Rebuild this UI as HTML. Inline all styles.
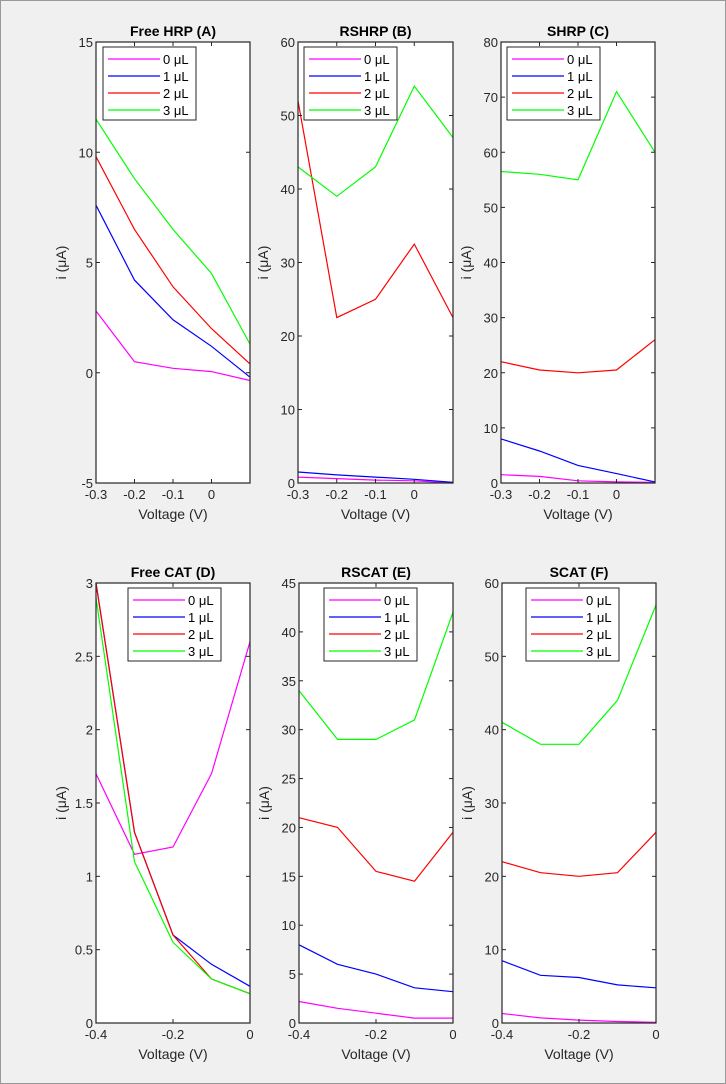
<!DOCTYPE html>
<html><head><meta charset="utf-8"><style>
body{margin:0;background:#f0f0f0;}
svg{display:block;font-family:"Liberation Sans",Arial,sans-serif;}
</style></head><body>
<svg id="fig" width="726" height="1084">
<rect x="0.5" y="0.5" width="725" height="1083" fill="#f0f0f0" stroke="#999"/>
</svg>
<script>
const seriesLabels=["0 \u03bcL","1 \u03bcL","2 \u03bcL","3 \u03bcL"];
const colors=["#ff00ff","#0000ff","#ff0000","#00ff00"];
const xTop=[-0.3,-0.2,-0.1,0,0.1];
const xBot=[-0.4,-0.3,-0.2,-0.1,0];
const titles=["Free HRP (A)","RSHRP (B)","SHRP (C)","Free CAT (D)","RSCAT (E)","SCAT (F)"];
const dataA=[[2.8,0.5,0.2,0.05,-0.35],[7.6,4.2,2.4,1.2,-0.2],[9.8,6.5,3.9,2.0,0.4],[11.5,8.8,6.5,4.5,1.3]];
const dataB=[[0.8,0.6,0.4,0.3,0],[1.5,1.1,0.8,0.5,0.1],[52,22.5,25,32.5,22.5],[43,39,43,54,47]];
const dataC=[[1.5,1.2,0.4,0.2,0.1],[8,5.8,3.2,1.7,0.2],[22,20.5,20,20.5,26],[56.5,56,55,71,60]];
const dataD=[[1.7,1.15,1.2,1.7,2.6],[3.0,1.3,0.6,0.4,0.25],[3.0,1.3,0.6,0.3,0.2],[2.9,1.1,0.55,0.3,0.2]];
const dataE=[[2.2,1.5,1.0,0.5,0.5],[8,6,5,3.6,3.2],[21,20,15.5,14.5,19.5],[34,29,29,31,42]];
const dataF=[[1.3,0.7,0.4,0.2,0.1],[8.5,6.5,6.2,5.2,4.8],[22,20.5,20,20.5,26],[41,38,38,44,57]];
const yTicksA=[-5,0,5,10,15];
const yTicksB=[0,10,20,30,40,50,60];
const yTicksC=[0,10,20,30,40,50,60,70,80];
const yTicksD=[0,0.5,1,1.5,2,2.5,3];
const yTicksE=[0,5,10,15,20,25,30,35,40,45];
const yTicksF=[0,10,20,30,40,50,60];
const xTicksTop=[-0.3,-0.2,-0.1,0];
const xTicksBot=[-0.4,-0.2,0];

const NS="http://www.w3.org/2000/svg";
const svg=document.getElementById('fig');
function mk(tag,attrs,parent){const e=document.createElementNS(NS,tag);for(const k in attrs)e.setAttribute(k,attrs[k]);(parent||svg).appendChild(e);return e;}

const panels=[
 {l:96,r:250,t:42,b:483,xs:xTop,xd:[-0.3,0.1],yd:[-5,15],yt:yTicksA,xt:xTicksTop,data:dataA,leg:[103,47],title:titles[0]},
 {l:298,r:453,t:42,b:483,xs:xTop,xd:[-0.3,0.1],yd:[0,60],yt:yTicksB,xt:xTicksTop,data:dataB,leg:[304,47],title:titles[1]},
 {l:501,r:655,t:42,b:483,xs:xTop,xd:[-0.3,0.1],yd:[0,80],yt:yTicksC,xt:xTicksTop,data:dataC,leg:[507,47],title:titles[2]},
 {l:96,r:250,t:583,b:1023,xs:xBot,xd:[-0.4,0],yd:[0,3],yt:yTicksD,xt:xTicksBot,data:dataD,leg:[128,588],title:titles[3]},
 {l:299,r:453,t:583,b:1023,xs:xBot,xd:[-0.4,0],yd:[0,45],yt:yTicksE,xt:xTicksBot,data:dataE,leg:[324,588],title:titles[4]},
 {l:502,r:656,t:583,b:1023,xs:xBot,xd:[-0.4,0],yd:[0,60],yt:yTicksF,xt:xTicksBot,data:dataF,leg:[526,588],title:titles[5]}
];
function fmt(v){let s=String(Math.round(v*100)/100);return s.replace(/^0\./,'0.').replace(/^-0\./,'-0.');}
panels.forEach((p,pi)=>{
 const g=mk('g',{});
 
 
 const X=v=>p.l+(v-p.xd[0])/(p.xd[1]-p.xd[0])*(p.r-p.l);
 const Y=v=>p.b-(v-p.yd[0])/(p.yd[1]-p.yd[0])*(p.b-p.t);
 const bg=mk('rect',{x:p.l,y:p.t,width:p.r-p.l,height:p.b-p.t,fill:'#fff'},g);
 
 
 // series
 p.data.forEach((s,si)=>{
  const pts=s.map((v,i)=>X(p.xs[i]).toFixed(1)+','+Y(v).toFixed(1)).join(' ');
  const pl=mk('polyline',{points:pts,fill:'none',stroke:colors[si],'stroke-width':1.2},g);
  
  
 });
 // ticks
 p.yt.forEach(v=>{
  const y=Y(v);
  mk('line',{x1:p.l,x2:p.l+4,y1:y,y2:y,stroke:'#262626'},g);
  mk('line',{x1:p.r,x2:p.r-4,y1:y,y2:y,stroke:'#262626'},g);
  const t=mk('text',{x:p.l-3,y:y+5,'text-anchor':'end','font-size':13,fill:'#262626'},g);
  t.textContent=fmt(v);
  
  
 });
 p.xt.forEach(v=>{
  const x=X(v);
  mk('line',{x1:x,x2:x,y1:p.b,y2:p.b-4,stroke:'#262626'},g);
  mk('line',{x1:x,x2:x,y1:p.t,y2:p.t+4,stroke:'#262626'},g);
  const t=mk('text',{x:x,y:p.b+16,'text-anchor':'middle','font-size':13,fill:'#262626'},g);
  t.textContent=fmt(v);
  
  
 });
 const box=mk('rect',{x:p.l,y:p.t,width:p.r-p.l,height:p.b-p.t,fill:'none',stroke:'#262626','stroke-width':1.2},g);
 
 
 const tt=mk('text',{x:(p.l+p.r)/2,y:p.t-6,'text-anchor':'middle','font-size':14,'font-weight':'bold',fill:'#000'},g);
 tt.textContent=p.title;
 
 
 const xl=mk('text',{x:(p.l+p.r)/2,y:p.b+36,'text-anchor':'middle','font-size':14,fill:'#262626'},g);
 xl.textContent='Voltage (V)';
 
 
 const yx=p.l-30,yy=(p.t+p.b)/2;
 const yl=mk('text',{x:yx,y:yy,'text-anchor':'middle','font-size':14,fill:'#262626',transform:'rotate(-90 '+yx+' '+yy+')'},g);
 yl.textContent='i (\u03bcA)';
 
 
 // legend
 const lg=mk('g',{},g);
 
 
 const [lx,ly]=p.leg;
 mk('rect',{x:lx,y:ly,width:93,height:73,fill:'#fff',stroke:'#262626'},lg);
 seriesLabels.forEach((lab,si)=>{
  const yy2=ly+12+si*17;
  mk('line',{x1:lx+5,x2:lx+57,y1:yy2,y2:yy2,stroke:colors[si],'stroke-width':1.2},lg);
  const t=mk('text',{x:lx+60,y:yy2+5,'font-size':13,fill:'#000'},lg);
  t.textContent=lab;
  
  
 });
});
</script>
</body></html>
